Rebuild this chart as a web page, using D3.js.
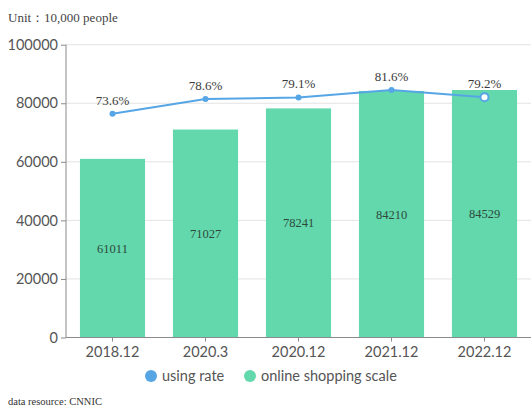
<!DOCTYPE html>
<html>
<head>
<meta charset="utf-8">
<script src="https://cdn.jsdelivr.net/npm/d3@7/dist/d3.min.js"></script>
<style>
  html, body { margin: 0; padding: 0; background: #fff; }
  svg { display: block; }
</style>
</head>
<body>
<svg id="chart" width="531" height="409"></svg>
<script>
// Online shopping users in China (unit: 10,000 people) and usage rate
const categories = ["2018.12", "2020.3", "2020.12", "2021.12", "2022.12"];
const scaleValues = [61011, 71027, 78241, 84210, 84529];
const rateValues = [73.6, 78.6, 79.1, 81.6, 79.2];
const yTicks = [0, 20000, 40000, 60000, 80000, 100000];
const rateDomain = [-1.9, 96.9];

const W = 531, H = 409;
const margin = { left: 66, right: 0, top: 44.7, bottom: 71.5 };
const svg = d3.select("#chart");

const x = d3.scaleBand()
  .domain(categories)
  .range([margin.left, W - margin.right])
  .paddingInner(0.3)
  .paddingOuter(0.15);

const y = d3.scaleLinear()
  .domain([0, 100000])
  .range([H - margin.bottom, margin.top]);

const y2 = d3.scaleLinear()
  .domain(rateDomain)
  .range([H - margin.bottom, margin.top]);

const sans = "Lato, 'Noto Sans', sans-serif";
const serif = "'Liberation Serif', 'DejaVu Serif', serif";

// Horizontal grid lines
svg.append("g")
  .selectAll("line")
  .data(yTicks.filter(d => d > 0))
  .join("line")
  .attr("x1", margin.left)
  .attr("x2", W - margin.right)
  .attr("y1", d => y(d))
  .attr("y2", d => y(d))
  .attr("stroke", "#e3e3e3")
  .attr("stroke-width", 1);

// Bars
svg.append("g")
  .selectAll("rect")
  .data(scaleValues)
  .join("rect")
  .attr("x", (d, i) => x(categories[i]))
  .attr("width", x.bandwidth())
  .attr("y", d => y(d))
  .attr("height", d => y(0) - y(d))
  .attr("fill", "#63d8ad");

// Bar value labels
svg.append("g")
  .selectAll("text")
  .data(scaleValues)
  .join("text")
  .attr("x", (d, i) => x(categories[i]) + x.bandwidth() / 2)
  .attr("y", d => (y(d) + y(0)) / 2)
  .attr("dy", "0.35em")
  .attr("text-anchor", "middle")
  .attr("font-family", serif)
  .attr("font-size", 12.5)
  .attr("fill", "#2d4a3c")
  .text(d => d);

// Y axis
const yAxis = svg.append("g")
  .attr("transform", `translate(${margin.left},0)`)
  .call(d3.axisLeft(y).tickValues(yTicks).tickSize(5).tickPadding(3).tickFormat(d3.format("d")));
yAxis.select(".domain").attr("stroke", "#8a8a8a").attr("d", `M0,${y(0)}V${y(100000)}`);
yAxis.selectAll(".tick line").attr("stroke", "#8a8a8a");
yAxis.selectAll(".tick text")
  .attr("font-family", sans)
  .attr("font-size", 14.5)
  .attr("fill", "#555");

// X axis
const xAxis = svg.append("g")
  .attr("transform", `translate(0,${y(0)})`)
  .call(d3.axisBottom(x).tickSize(4).tickPadding(5));
xAxis.select(".domain").attr("stroke", "#8a8a8a").attr("d", `M${margin.left},0H${W}`);
xAxis.selectAll(".tick line").attr("stroke", "#8a8a8a");
xAxis.selectAll(".tick text")
  .attr("font-family", sans)
  .attr("font-size", 14.5)
  .attr("fill", "#555");

// Usage rate line
const line = d3.line()
  .x((d, i) => x(categories[i]) + x.bandwidth() / 2)
  .y(d => y2(d));

svg.append("path")
  .datum(rateValues)
  .attr("d", line)
  .attr("fill", "none")
  .attr("stroke", "#56a6e6")
  .attr("stroke-width", 2);

svg.append("g")
  .selectAll("circle")
  .data(rateValues)
  .join("circle")
  .attr("cx", (d, i) => x(categories[i]) + x.bandwidth() / 2)
  .attr("cy", d => y2(d))
  .attr("r", (d, i) => i === rateValues.length - 1 ? 4 : 3)
  .attr("fill", (d, i) => i === rateValues.length - 1 ? "#ffffff" : "#56a6e6")
  .attr("stroke", "#56a6e6")
  .attr("stroke-width", (d, i) => i === rateValues.length - 1 ? 2 : 0);

svg.append("g")
  .selectAll("text")
  .data(rateValues)
  .join("text")
  .attr("x", (d, i) => x(categories[i]) + x.bandwidth() / 2)
  .attr("y", d => y2(d) - 9)
  .attr("text-anchor", "middle")
  .attr("font-family", serif)
  .attr("font-size", 13)
  .attr("fill", "#3b3b3b")
  .text(d => d.toFixed(1) + "%");

// Legend
const legendItems = [
  { label: "using rate", color: "#56a6e6", cx: 151 },
  { label: "online shopping scale", color: "#63d8ad", cx: 250 }
];
const legend = svg.append("g");
legend.selectAll("circle")
  .data(legendItems)
  .join("circle")
  .attr("cx", d => d.cx)
  .attr("cy", 376)
  .attr("r", 6)
  .attr("fill", d => d.color);
legend.selectAll("text")
  .data(legendItems)
  .join("text")
  .attr("x", d => d.cx + 11)
  .attr("y", 376)
  .attr("dy", "0.35em")
  .attr("font-family", sans)
  .attr("font-size", 14.5)
  .attr("fill", "#555")
  .text(d => d.label);

// Unit note and source
svg.append("text")
  .attr("x", 8).attr("y", 22)
  .attr("font-family", serif)
  .attr("font-size", 13)
  .attr("fill", "#444")
  .text("Unit：10,000 people");

svg.append("text")
  .attr("x", 8).attr("y", 405)
  .attr("font-family", serif)
  .attr("font-size", 10.5)
  .attr("fill", "#333")
  .text("data resource: CNNIC");
</script>
</body>
</html>
